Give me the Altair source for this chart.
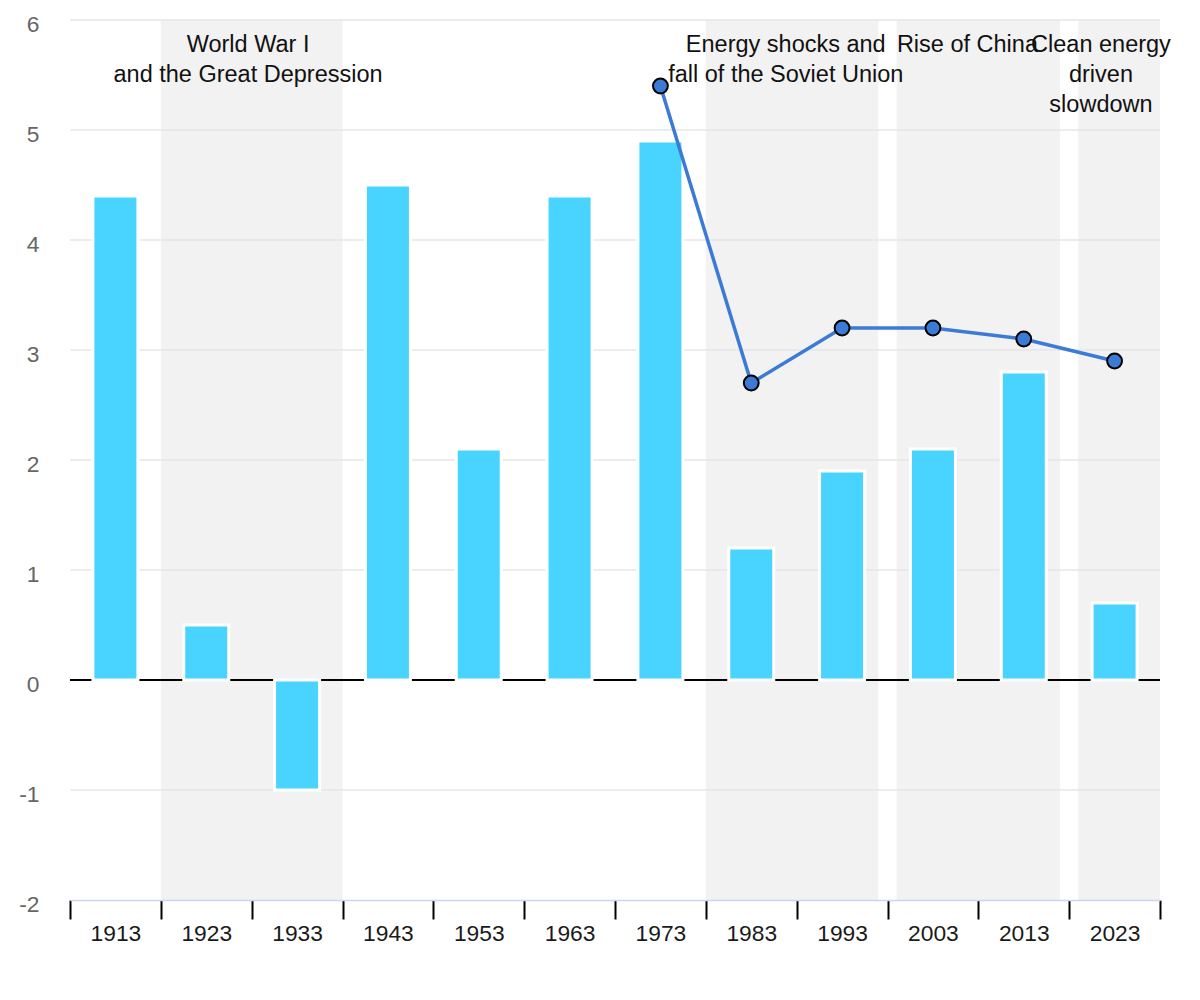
import altair as alt
import pandas as pd

# ---- data ----
years = [1913, 1923, 1933, 1943, 1953, 1963, 1973, 1983, 1993, 2003, 2013, 2023]
growth = [4.4, 0.5, -1.0, 4.5, 2.1, 4.4, 4.9, 1.2, 1.9, 2.1, 2.8, 0.7]

line_years = [1973, 1983, 1993, 2003, 2013, 2023]
line_values = [5.4, 2.7, 3.2, 3.2, 3.1, 2.9]

era_start = [1918, 1978, 1999, 2019]
era_end = [1938, 1997, 2017, 2028]
era_label_x = [1927.6, 1986.8, 2006.8, 2021.5]
era_labels = [
    "World War I\nand the Great Depression",
    "Energy shocks and\nfall of the Soviet Union",
    "Rise of China",
    "Clean energy\ndriven\nslowdown",
]

y_ticks = [-2, -1, 0, 1, 2, 3, 4, 5, 6]
grid_values = [-1, 1, 2, 3, 4, 5, 6]
x_domain = [1908, 2028]

FONT = "Liberation Sans"

bars_df = pd.DataFrame({"year": years, "growth": growth})
line_df = pd.DataFrame({"year": line_years, "value": line_values})
era_df = pd.DataFrame({"start": era_start, "end": era_end, "lx": era_label_x, "label": era_labels})
grid_df = pd.DataFrame({"g": grid_values})

yscale = alt.Scale(domain=[-2, 6], nice=False)
xq = alt.Scale(domain=x_domain, nice=False, zero=False)
xband = alt.Scale(type="band", domain=years, paddingInner=0, paddingOuter=0)
xpoint = alt.Scale(type="point", domain=years, padding=0.5)

yaxis = alt.Axis(values=y_ticks, grid=False, domain=False, ticks=False,
                 labelFontSize=22.8, labelColor="#666666", labelPadding=31,
                 labelFont=FONT, labelBaseline="middle", labelOffset=4,
                 labelExpr="toString(datum.value)", title=None)

shade = alt.Chart(era_df).mark_rect(color="#f2f2f2").encode(
    x=alt.X("start:Q", scale=xq, axis=None),
    x2="end:Q",
    y=alt.Y(datum=6, type="quantitative", scale=yscale, axis=yaxis),
    y2=alt.Y2(datum=-2),
)

grid = alt.Chart(grid_df).mark_rule(color="#e6e6e6", strokeWidth=1.5).encode(
    y=alt.Y("g:Q", scale=yscale, axis=yaxis)
)

zero = alt.Chart(bars_df).mark_rule(color="black", strokeWidth=2.2).encode(
    y=alt.Y(datum=0, type="quantitative", scale=yscale, axis=yaxis)
)

bars = alt.Chart(bars_df).mark_bar(color="#48d4ff", stroke="white", strokeWidth=3, width=45).encode(
    x=alt.X("year:O", scale=xband,
            axis=alt.Axis(tickBand="extent", tickSize=19, tickWidth=2, tickColor="black",
                          domainColor="#ccd6eb", domainWidth=1.5, labelFontSize=22.8,
                          labelColor="#1a1a1a", labelPadding=3, labelAngle=0, labelFont=FONT,
                          title=None, grid=False, zindex=1)),
    y=alt.Y("growth:Q", scale=yscale, axis=yaxis),
    y2=alt.Y2(datum=0),
)

line = alt.Chart(line_df).mark_line(color="#3b7bd6", strokeWidth=3.5).encode(
    x=alt.X("year:O", scale=xpoint, axis=None),
    y=alt.Y("value:Q", scale=yscale, axis=yaxis),
)

points = alt.Chart(line_df).mark_circle(size=220, color="#3b7bd6", stroke="black",
                                        strokeWidth=2, opacity=1).encode(
    x=alt.X("year:O", scale=xpoint, axis=None),
    y=alt.Y("value:Q", scale=yscale, axis=yaxis),
)

texts = alt.Chart(era_df).mark_text(align="center", baseline="alphabetic", dy=32,
                                    fontSize=23.5, lineHeight=30, lineBreak="\n",
                                    font=FONT, color="#111111").encode(
    x=alt.X("lx:Q", scale=xq, axis=None),
    y=alt.Y(datum=6, type="quantitative", scale=yscale, axis=yaxis),
    text="label:N",
)

chart = alt.layer(shade, grid, zero, bars, line, points, texts).resolve_scale(
    x="independent"
).properties(
    width=1090, height=880,
    autosize=alt.AutoSizeParams(type="none"),
    padding={"left": 62, "top": 12, "right": 28, "bottom": 70},
).configure_view(stroke=None)

chart.save("out.html", embed_options={"renderer": "svg", "actions": False})
